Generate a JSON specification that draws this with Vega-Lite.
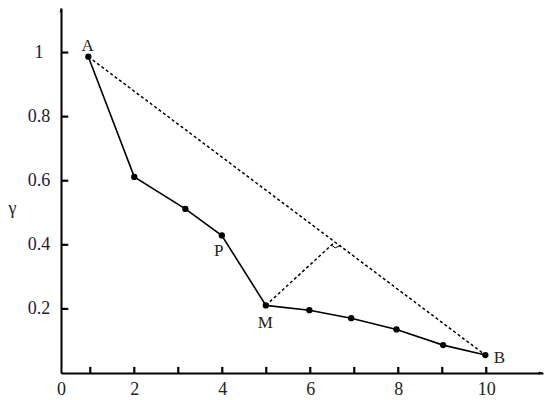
{
  "$schema": "https://vega.github.io/schema/vega-lite/v6.json",
  "width": 482,
  "height": 365,
  "autosize": "none",
  "padding": {"left": 61, "top": 8, "right": 7, "bottom": 27},
  "background": "white",
  "config": {"view": {"stroke": null}, "font": "Liberation Serif"},
  "datasets": {
    "curve": [
      {"x": 0.955, "y": 0.987},
      {"x": 2.0, "y": 0.612},
      {"x": 3.16, "y": 0.512},
      {"x": 3.99, "y": 0.429},
      {"x": 4.99, "y": 0.211},
      {"x": 5.98, "y": 0.196},
      {"x": 6.93, "y": 0.171},
      {"x": 7.96, "y": 0.136},
      {"x": 9.02, "y": 0.087},
      {"x": 9.98, "y": 0.056}
    ],
    "dashed": [
      {"seg": "AB", "x": 0.955, "y": 0.987},
      {"seg": "AB", "x": 9.98, "y": 0.056},
      {"seg": "MF", "x": 4.99, "y": 0.211},
      {"seg": "MF", "x": 6.56, "y": 0.409}
    ],
    "rightangle": [
      {"x": 6.493, "y": 0.398},
      {"x": 6.566, "y": 0.3906},
      {"x": 6.702, "y": 0.399}
    ],
    "labels": [
      {"name": "A", "x": 0.94, "y": 1.02},
      {"name": "P", "x": 3.92, "y": 0.382},
      {"name": "M", "x": 4.98, "y": 0.157},
      {"name": "B", "x": 10.3, "y": 0.046}
    ],
    "xticks": [{"x": 1}, {"x": 2}, {"x": 3}, {"x": 4}, {"x": 5}, {"x": 6}, {"x": 7}, {"x": 8}, {"x": 9}, {"x": 10}],
    "yticks": [{"y": 0.2}, {"y": 0.4}, {"y": 0.6}, {"y": 0.8}, {"y": 1}]
  },
  "resolve": {"axis": {"x": "independent", "y": "independent"}},
  "layer": [
    {
      "data": {"name": "dashed"},
      "mark": {"type": "line", "color": "black", "strokeWidth": 1.5, "strokeDash": [3, 2.5]},
      "encoding": {
        "detail": {"field": "seg"},
        "x": {
          "field": "x", "type": "quantitative",
          "scale": {"domain": [0.334, 11.29], "nice": false, "zero": false},
          "axis": {
            "orient": "bottom",
            "title": null,
            "values": [0.334, 2, 4, 6, 8, 10],
            "labelExpr": "datum.value < 0.5 ? '0' : format(datum.value, 'd')",
            "grid": false, "ticks": false, "tickSize": 0,
            "domainColor": "black", "domainWidth": 2,
            "labelFont": "Liberation Serif", "labelFontSize": 18, "labelColor": "#222",
            "labelBaseline": "top", "labelPadding": 7, "labelFlush": false, "labelOverlap": false
          }
        },
        "y": {
          "field": "y", "type": "quantitative",
          "scale": {"domain": [0, 1.139], "nice": false, "zero": false},
          "axis": {
            "orient": "left",
            "title": "γ",
            "titleAngle": 0, "titleX": -49, "titleY": 200, "titleAlign": "center", "titleBaseline": "middle",
            "titleFont": "Liberation Serif", "titleFontSize": 18, "titleFontWeight": "normal", "titleColor": "#222",
            "values": [0.2, 0.4, 0.6, 0.8, 1],
            "format": "~g",
            "grid": false, "ticks": false, "tickSize": 0,
            "domainColor": "black", "domainWidth": 2,
            "labelFont": "Liberation Serif", "labelFontSize": 18, "labelColor": "#222",
            "labelAlign": "center", "labelBaseline": "middle", "labelPadding": 22.5
          }
        }
      }
    },
    {
      "data": {"name": "xticks"},
      "mark": {"type": "rule", "color": "black", "strokeWidth": 2.2},
      "encoding": {
        "x": {"field": "x", "type": "quantitative", "scale": {"domain": [0.334, 11.29], "nice": false, "zero": false}, "axis": null},
        "y": {"datum": 0, "type": "quantitative", "scale": {"domain": [0, 1.139], "nice": false, "zero": false}, "axis": null},
        "y2": {"datum": 0.019}
      }
    },
    {
      "data": {"name": "yticks"},
      "mark": {"type": "rule", "color": "black", "strokeWidth": 2.2},
      "encoding": {
        "y": {"field": "y", "type": "quantitative", "scale": {"domain": [0, 1.139], "nice": false, "zero": false}, "axis": null},
        "x": {"datum": 0.334, "type": "quantitative", "scale": {"domain": [0.334, 11.29], "nice": false, "zero": false}, "axis": null},
        "x2": {"datum": 0.5}
      }
    },
    {
      "data": {"name": "curve"},
      "mark": {"type": "line", "color": "black", "strokeWidth": 1.6},
      "encoding": {
        "x": {"field": "x", "type": "quantitative", "scale": {"domain": [0.334, 11.29], "nice": false, "zero": false}, "axis": null},
        "y": {"field": "y", "type": "quantitative", "scale": {"domain": [0, 1.139], "nice": false, "zero": false}, "axis": null}
      }
    },
    {
      "data": {"name": "curve"},
      "mark": {"type": "point", "filled": true, "color": "black", "size": 40, "opacity": 1},
      "encoding": {
        "x": {"field": "x", "type": "quantitative", "scale": {"domain": [0.334, 11.29], "nice": false, "zero": false}, "axis": null},
        "y": {"field": "y", "type": "quantitative", "scale": {"domain": [0, 1.139], "nice": false, "zero": false}, "axis": null}
      }
    },
    {
      "data": {"name": "rightangle"},
      "mark": {"type": "line", "color": "black", "strokeWidth": 1},
      "encoding": {
        "x": {"field": "x", "type": "quantitative", "scale": {"domain": [0.334, 11.29], "nice": false, "zero": false}, "axis": null},
        "y": {"field": "y", "type": "quantitative", "scale": {"domain": [0, 1.139], "nice": false, "zero": false}, "axis": null}
      }
    },
    {
      "data": {"name": "labels"},
      "mark": {"type": "text", "font": "Liberation Serif", "fontSize": 17, "color": "#222", "baseline": "middle", "align": "center"},
      "encoding": {
        "text": {"field": "name"},
        "x": {"field": "x", "type": "quantitative", "scale": {"domain": [0.334, 11.29], "nice": false, "zero": false}, "axis": null},
        "y": {"field": "y", "type": "quantitative", "scale": {"domain": [0, 1.139], "nice": false, "zero": false}, "axis": null}
      }
    },
    {
      "data": {"values": [{}]},
      "mark": {"type": "point", "filled": true, "color": "black", "opacity": 1, "size": 70, "shape": "M0,0 L-1,-0.35 L-1,0.35 Z"},
      "encoding": {
        "x": {"datum": 11.29, "type": "quantitative", "scale": {"domain": [0.334, 11.29], "nice": false, "zero": false}, "axis": null},
        "y": {"datum": 0, "type": "quantitative", "scale": {"domain": [0, 1.139], "nice": false, "zero": false}, "axis": null}
      }
    },
    {
      "data": {"values": [{}]},
      "mark": {"type": "point", "filled": true, "color": "black", "opacity": 1, "size": 70, "shape": "M0,0 L-0.35,1 L0.35,1 Z"},
      "encoding": {
        "x": {"datum": 0.334, "type": "quantitative", "scale": {"domain": [0.334, 11.29], "nice": false, "zero": false}, "axis": null},
        "y": {"datum": 1.139, "type": "quantitative", "scale": {"domain": [0, 1.139], "nice": false, "zero": false}, "axis": null}
      }
    }
  ]
}
